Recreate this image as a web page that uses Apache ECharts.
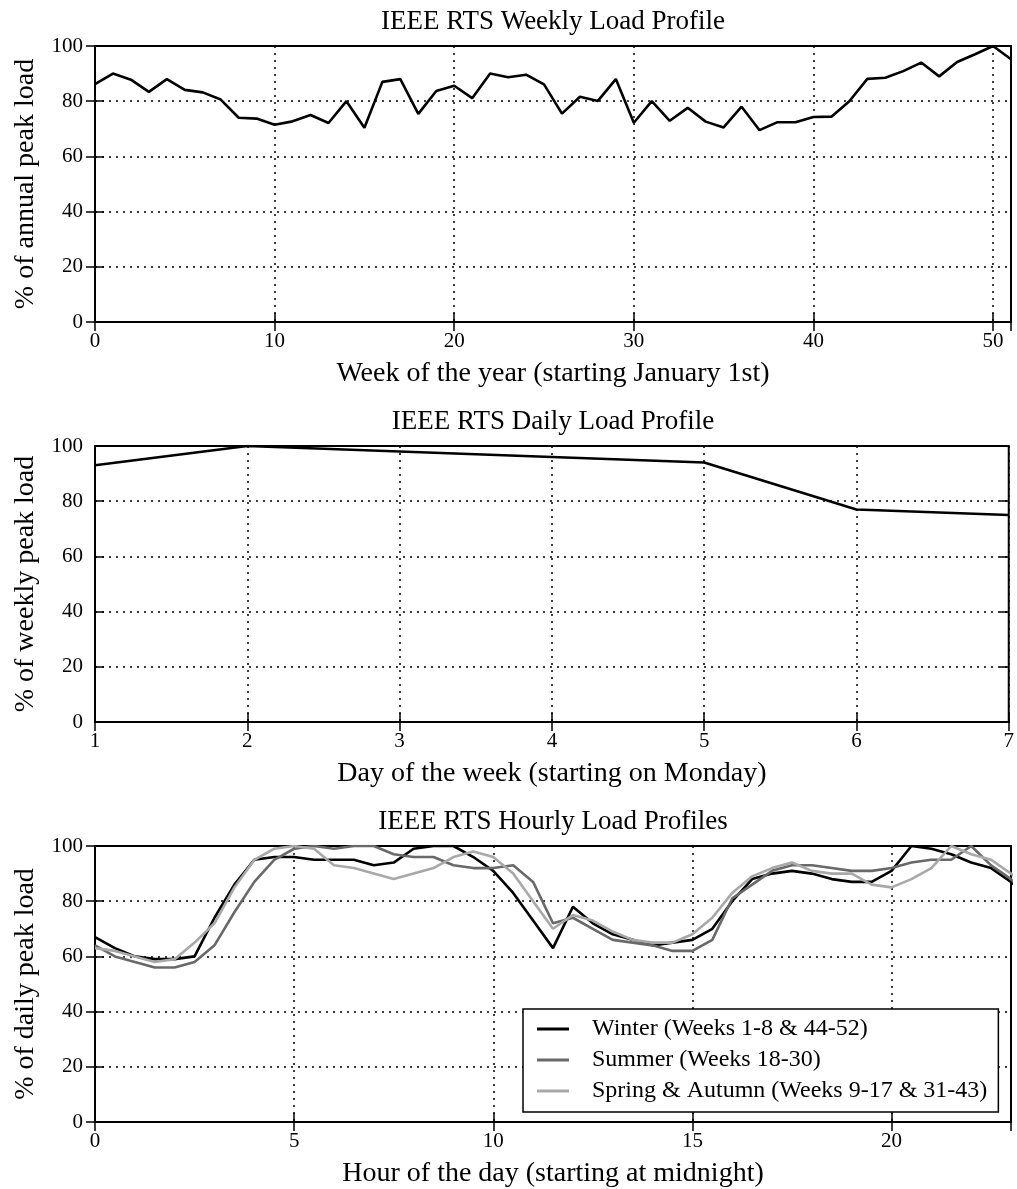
<!DOCTYPE html>
<html>
<head>
<meta charset="utf-8">
<script src="https://cdn.jsdelivr.net/npm/echarts@6/dist/echarts.min.js"></script>
<style>
html,body{margin:0;padding:0;background:#fff;}
#chart{width:1017px;height:1189px;}
</style>
</head>
<body>
<div id="chart"></div>
<script>
// ---- data ----
const weeklyLoad = [86.2, 90.0, 87.8, 83.4, 88.0, 84.1, 83.2, 80.6, 74.0, 73.7,
  71.5, 72.7, 75.0, 72.1, 80.0, 70.4, 87.0, 88.0, 75.4, 83.7,
  85.6, 81.1, 90.0, 88.7, 89.6, 86.1, 75.5, 81.6, 80.1, 88.0,
  72.2, 80.0, 72.9, 77.6, 72.6, 70.5, 78.0, 69.5, 72.4, 72.4,
  74.3, 74.4, 80.0, 88.1, 88.5, 90.9, 94.0, 89.0, 94.2, 97.0,
  100.0, 95.2];
const days = [1, 2, 3, 4, 5, 6, 7];
const dailyLoad = [93, 100, 98, 96, 94, 77, 75];
// hourly profiles: weekday hours followed by weekend hours, plotted at half-hour steps
const winterLoad = [67, 63, 60, 59, 59, 60, 74, 86, 95, 96, 96, 95, 95, 95, 93, 94, 99, 100, 100, 96, 91, 83, 73, 63,
  78, 72, 68, 66, 64, 65, 66, 70, 80, 88, 90, 91, 90, 88, 87, 87, 91, 100, 99, 97, 94, 92, 87, 81];
const summerLoad = [64, 60, 58, 56, 56, 58, 64, 76, 87, 95, 99, 100, 99, 100, 100, 97, 96, 96, 93, 92, 92, 93, 87, 72,
  74, 70, 66, 65, 64, 62, 62, 66, 81, 86, 91, 93, 93, 92, 91, 91, 92, 94, 95, 95, 100, 93, 88, 80];
const springAutumnLoad = [63, 62, 60, 58, 59, 65, 72, 85, 95, 99, 100, 99, 93, 92, 90, 88, 90, 92, 96, 98, 96, 90, 80, 70,
  75, 73, 69, 66, 65, 65, 68, 74, 83, 89, 92, 94, 91, 90, 90, 86, 85, 88, 92, 100, 97, 95, 90, 85];
const yTicks = [0, 20, 40, 60, 80, 100];
const titles = ['IEEE RTS Weekly Load Profile', 'IEEE RTS Daily Load Profile', 'IEEE RTS Hourly Load Profiles'];
const xNames = ['Week of the year (starting January 1st)', 'Day of the week (starting on Monday)', 'Hour of the day (starting at midnight)'];
const yNames = ['% of annual peak load', '% of weekly peak load', '% of daily peak load'];
const seriesNames = ['Winter (Weeks 1-8 & 44-52)', 'Summer (Weeks 18-30)', 'Spring & Autumn (Weeks 9-17 & 31-43)'];

// ---- chart ----
const FONT = 'Liberation Serif';
const chart = echarts.init(document.getElementById('chart'), null, {renderer: 'canvas'});

const gridTops = [46, 446, 846];
const gridH = 276;
const xRanges = [[0, 51, 10], [1, 7, 1], [0, 23, 5]];

const grids = gridTops.map(t => ({
  left: 95, right: 6, top: t, height: gridH,
  show: true, borderColor: '#000', borderWidth: 2, backgroundColor: 'transparent'
}));

const tickStyle = {show: true, inside: true, length: 9, lineStyle: {color: '#000', width: 1.5}};
const splitStyle = {show: true, lineStyle: {color: '#000', width: 1.5, type: [2, 5]}};

const xAxes = [];
const yAxes = [];
for (let g = 0; g < 3; g++) {
  const [mn, mx, iv] = xRanges[g];
  xAxes.push({
    type: 'value', gridIndex: g, min: mn, max: mx, interval: iv, position: 'bottom',
    name: xNames[g], nameLocation: 'middle', nameGap: 38,
    nameTextStyle: {fontFamily: FONT, fontSize: 28, color: '#000'},
    axisLine: {show: true, lineStyle: {color: '#000', width: 2}},
    axisTick: tickStyle,
    axisLabel: {fontFamily: FONT, fontSize: 21, color: '#000', margin: 9, showMaxLabel: g === 1, showMinLabel: true},
    splitLine: splitStyle
  });
  xAxes.push({
    type: 'value', gridIndex: g, min: mn, max: mx, interval: iv, position: 'top',
    axisLine: {show: false}, axisTick: tickStyle, axisLabel: {show: false}, splitLine: {show: false}
  });
  yAxes.push({
    type: 'value', gridIndex: g, min: yTicks[0], max: yTicks[yTicks.length - 1], interval: yTicks[1] - yTicks[0],
    position: 'left',
    name: yNames[g], nameLocation: 'middle', nameGap: 55, nameRotate: 90,
    nameTextStyle: {fontFamily: FONT, fontSize: 28, color: '#000'},
    axisLine: {show: true, lineStyle: {color: '#000', width: 2}},
    axisTick: tickStyle,
    axisLabel: {fontFamily: FONT, fontSize: 21, color: '#000', margin: 12},
    splitLine: splitStyle
  });
  yAxes.push({
    type: 'value', gridIndex: g, min: yTicks[0], max: yTicks[yTicks.length - 1], interval: yTicks[1] - yTicks[0],
    position: 'right',
    axisLine: {show: false}, axisTick: tickStyle, axisLabel: {show: false}, splitLine: {show: false}
  });
}

const lineSeries = (name, data, xi, yi, color) => ({
  name, type: 'line', xAxisIndex: xi, yAxisIndex: yi, data,
  symbol: 'none', showSymbol: false, clip: true, animation: false,
  lineStyle: {color, width: 2.6}, itemStyle: {color}, z: 5
});

const halfHour = winterLoad.map((_, i) => i * 0.5);

const option = {
  backgroundColor: '#fff',
  animation: false,
  title: titles.map((t, i) => ({
    text: t, left: 553, textAlign: 'center', top: gridTops[i] - 38, padding: 0,
    textStyle: {fontFamily: FONT, fontSize: 27, fontWeight: 'normal', color: '#000'}
  })),
  grid: grids,
  xAxis: xAxes,
  yAxis: yAxes,
  legend: {
    show: true, orient: 'vertical', left: 523, top: 1009,
    data: seriesNames.map(n => ({name: n, icon: 'rect'})),
    backgroundColor: '#fff', borderColor: '#000', borderWidth: 1.5, borderRadius: 0,
    padding: [8, 11, 9, 14], itemGap: 7, itemWidth: 32, itemHeight: 3,
    textStyle: {fontFamily: FONT, fontSize: 24, color: '#000', padding: [0, 0, 0, 18], lineHeight: 24},
    z: 10
  },
  series: [
    lineSeries('weekly', weeklyLoad.map((v, i) => [i, v]), 0, 0, '#000'),
    lineSeries('daily', days.map((d, i) => [d, dailyLoad[i]]), 2, 2, '#000'),
    lineSeries(seriesNames[0], halfHour.map((h, i) => [h, winterLoad[i]]), 4, 4, '#000'),
    lineSeries(seriesNames[1], halfHour.map((h, i) => [h, summerLoad[i]]), 4, 4, '#696969'),
    lineSeries(seriesNames[2], halfHour.map((h, i) => [h, springAutumnLoad[i]]), 4, 4, '#a8a8a8')
  ]
};
chart.setOption(option);
</script>
</body>
</html>
